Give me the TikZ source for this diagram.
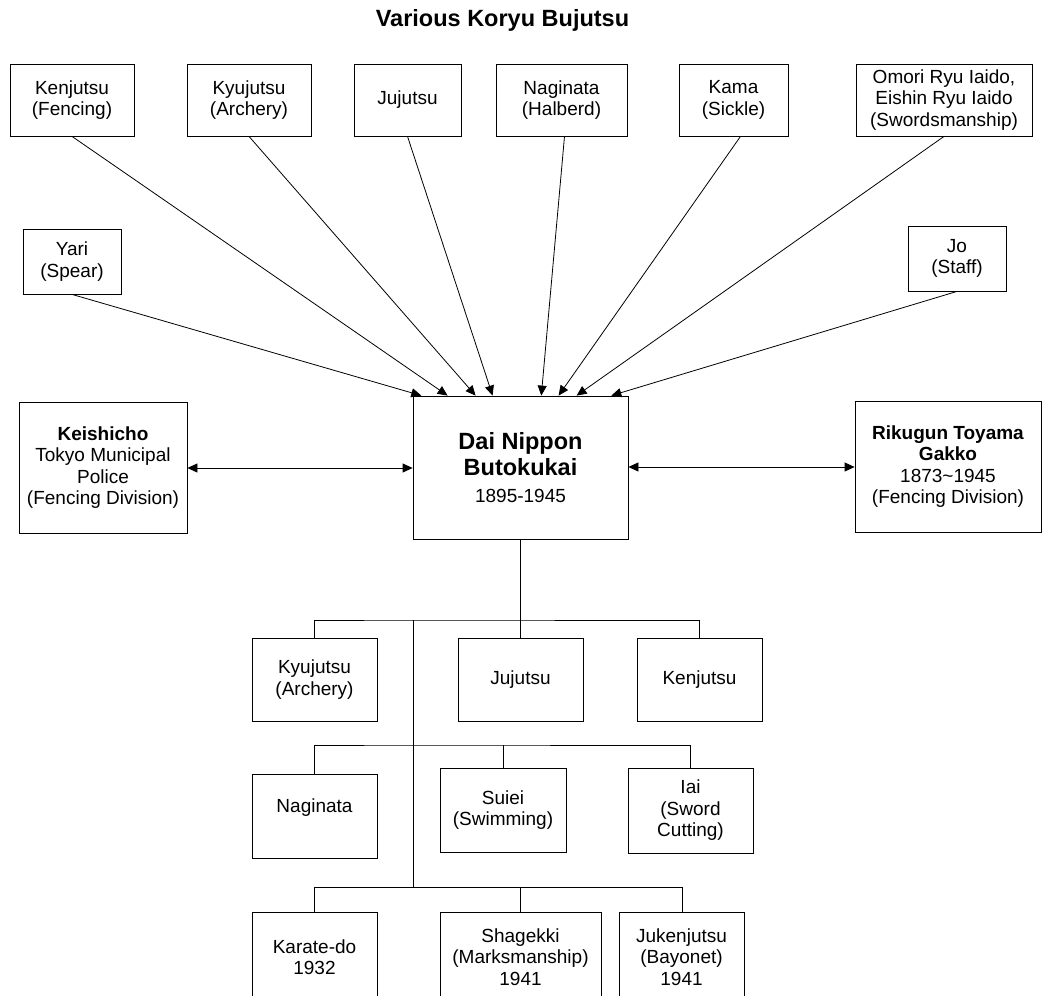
\documentclass[tikz,border=0pt]{standalone}
\usepackage{fontspec}
\setmainfont{Liberation Sans}
\usetikzlibrary{arrows.meta,calc}
\newcommand{\bigbf}{\fontsize{23.5}{26.7}\selectfont\bfseries}
\newcommand{\regtxt}{\fontsize{19}{26}\selectfont\mdseries}
\tikzset{
  box/.style={draw=black, line width=0.8pt, align=center, inner sep=2pt,
    font=\fontsize{19}{21.5}\selectfont},
  conn/.style={draw=black, line width=0.8pt},
  arr/.style={conn, -{Triangle[length=10pt,width=9pt]}},
  darr/.style={conn, {Triangle[length=10pt,width=9pt]}-{Triangle[length=10pt,width=9pt]}}
}
\begin{document}
\begin{tikzpicture}[x=1pt,y=-1pt]
\useasboundingbox (0,0) rectangle (1051,995);
\clip (0,0) rectangle (1051,995);
\node[anchor=base, font=\bfseries\fontsize{23.5}{27}\selectfont] (title) at (502.5,26.7) {Various Koryu Bujutsu};
% top row
\node[box, minimum width=124, minimum height=72] (kenj) at (72,100) {Kenjutsu\\(Fencing)};
\node[box, minimum width=124, minimum height=72] (kyuj) at (249,100) {Kyujutsu\\(Archery)};
\node[box, minimum width=107, minimum height=72] (juj) at (407.5,100) {Jujutsu};
\node[box, minimum width=131, minimum height=72] (nagi) at (561.5,100) {Naginata\\(Halberd)};
\node[box, minimum width=109, minimum height=72] (kama) at (733.5,100) {Kama\\(Sickle)};
\node[box, minimum width=176, minimum height=72] (omori) at (944,100) {Omori Ryu Iaido,\\Eishin Ryu Iaido\\(Swordsmanship)};
\node[box, minimum width=98, minimum height=65] (yari) at (72,261.5) {Yari\\(Spear)};
\node[box, minimum width=98, minimum height=65] (jo) at (957,258.5) {Jo\\(Staff)};
% middle row
\node[box, minimum width=168, minimum height=131] (keis) at (103,467.5) {\textbf{Keishicho}\\Tokyo Municipal\\Police\\(Fencing Division)};
\node[box, minimum width=215, minimum height=143, font=\bigbf] (dnb) at (520.5,467.5)
  {\bigbf Dai Nippon\\\bigbf Butokukai\\\regtxt 1895-1945};
\node[box, minimum width=186, minimum height=131] (riku) at (948,466.5) {\textbf{Rikugun Toyama}\\\textbf{Gakko}\\1873\textasciitilde1945\\(Fencing Division)};
% arrow targets on top of center box
\coordinate (t1) at ($(dnb.north west)+(8.7,0)$);
\coordinate (t2) at ($(dnb.north west)+(35,0)$);
\coordinate (t3) at ($(dnb.north west)+(63,0)$);
\coordinate (t4) at ($(dnb.north west)+(80,0)$);
\coordinate (t5) at ($(dnb.north west)+(128.7,0)$);
\coordinate (t6) at ($(dnb.north west)+(146,0)$);
\coordinate (t7) at ($(dnb.north west)+(164,0)$);
\coordinate (t8) at ($(dnb.north west)+(198.7,0)$);
\draw[arr] (yari.south) -- (t1);
\draw[arr] (kenj.south) -- (t2);
\draw[arr] (kyuj.south) -- (t3);
\draw[arr] (juj.south) -- (t4);
\draw[arr] ([xshift=3]nagi.south) -- (t5);
\draw[arr] ([xshift=7]kama.south) -- (t6);
\draw[arr] (omori.south) -- (t7);
\draw[arr] (jo.south) -- (t8);
\draw[darr] (keis.east |- 0,468) -- (dnb.west |- 0,468);
\draw[darr] (dnb.east |- 0,467) -- (riku.west |- 0,467);
% subtree rows
\node[box, minimum width=125, minimum height=83] (kyu2) at (314.5,679.5) {Kyujutsu\\(Archery)};
\node[box, minimum width=125, minimum height=83] (juj2) at (520.5,679.5) {Jujutsu};
\node[box, minimum width=125, minimum height=83] (ken2) at (699.5,679.5) {Kenjutsu};
\node[box, minimum width=125, minimum height=84] (nag2) at (314.5,816) {Naginata\\\mbox{}};
\node[box, minimum width=126, minimum height=84] (sui) at (503,810) {Suiei\\(Swimming)};
\node[box, minimum width=125, minimum height=85] (iai) at (690.5,810.5) {Iai\\(Sword\\Cutting)};
\node[box, minimum width=125, minimum height=90] (kar) at (314.5,957) {Karate-do\\1932};
\node[box, minimum width=161, minimum height=90] (sha) at (520.5,957) {Shagekki\\(Marksmanship)\\1941};
\node[box, minimum width=125, minimum height=90] (juk) at (681.5,957) {Jukenjutsu\\(Bayonet)\\1941};
% tree connectors
\coordinate (b1) at (413,620);
\coordinate (b2) at (413,745);
\coordinate (b3) at (413,887);
\draw[conn] (dnb.south) -- (juj2.north);
\draw[conn] (kyu2.north) |- (b1) -| (ken2.north);
\draw[conn] (b1) -- (b3);
\draw[conn] (nag2.north) |- (b2) -| (iai.north);
\draw[conn] (sui.north) -- (sui.north |- b2);
\draw[conn] (kar.north) |- (b3) -| ([xshift=1]juk.north);
\draw[conn] (sha.north) -- (sha.north |- b3);
\end{tikzpicture}
\end{document}
